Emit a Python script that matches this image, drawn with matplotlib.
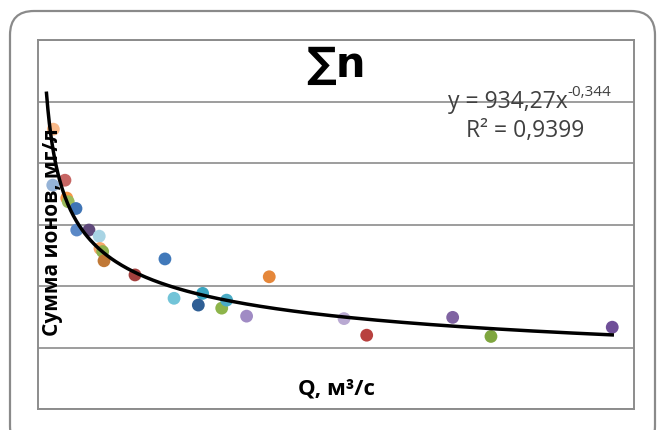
import numpy as np
import matplotlib
matplotlib.use('Agg')
import matplotlib.pyplot as plt
from matplotlib.patches import FancyBboxPatch

plt.rcParams['font.family'] = ['Open Sans', 'DejaVu Sans']

# Q, m3/s and sum of ions, mg/l
q = [10.3, 9.9, 18.1, 19.3, 20.3, 25.5, 26.0, 34.2, 41.1, 41.6, 43.4, 44.3, 65.1,
     85.2, 155.2, 91.3, 110.5, 107.6, 123.3, 126.6, 140.0, 205.4, 220.6, 278.3,
     304.0, 385.4]
ions = [455, 364, 372, 343, 337, 326, 291, 291, 281, 261, 256, 241, 218,
        244, 215, 180, 188, 169, 164, 177, 151, 147, 120, 149, 118, 133]
point_colors = ['#F8B98A', '#95B3D7', '#C66563', '#F79646', '#9BBB59', '#3F74B5',
                '#5A88C6', '#604A7B', '#A8D4E4', '#F6A76A', '#8DB04C', '#C07836',
                '#A3403E', '#4179BA', '#E5873A', '#72C4D8', '#3AA6C2', '#2F5F95',
                '#8DB44A', '#4BACC6', '#A08BC4', '#B9A9D2', '#B8413F', '#8064A2',
                '#7FA63F', '#6F4F98']

# power trend line y = a * x^b
fit_a = 934.27
fit_b = -0.344
fit_range = [5.7, 385.4]

W, H = 659, 430
fig = plt.figure(figsize=(W / 100, H / 100), dpi=100)

# outer chart frame with rounded corners
bg = fig.add_axes([0, 0, 1, 1])
bg.set_xlim(0, W)
bg.set_ylim(0, H)
bg.axis('off')
frame = FancyBboxPatch((10, -20), 645, 439, boxstyle='round,pad=0,rounding_size=24',
                       facecolor='white', edgecolor='#8a8a8a', linewidth=1.6)
bg.add_patch(frame)

ax = fig.add_axes([38 / W, (H - 409) / H, 596 / W, 369 / H])
ax.set_xlim(0, 400)
ax.set_ylim(0, 600)
ax.set_yticks(np.arange(0, 601, 100))
ax.set_xticks([])
ax.tick_params(left=False, labelleft=False)
ax.grid(axis='y', color='#8c8c8c', linewidth=1.2)
for s in ax.spines.values():
    s.set_color('#8c8c8c')
    s.set_linewidth(1.4)

ax.scatter(q, ions, s=85, c=point_colors, zorder=3, linewidths=0)

xf = np.linspace(fit_range[0], fit_range[1], 400)
ax.plot(xf, fit_a * xf ** fit_b, color='black', linewidth=2.5, zorder=4, clip_on=False)

ax.text(0.5, 0.932, '∑n', transform=ax.transAxes, ha='center', va='center',
        fontsize=30, fontweight='bold', family=['DejaVu Sans'])
ax.text(0.5, 0.054, 'Q, м³/с', transform=ax.transAxes, ha='center', va='center',
        fontsize=16, fontweight='bold')
ax.text(0.0235, 0.48, 'Сумма ионов, мг/л', transform=ax.transAxes, ha='center',
        va='center', rotation=90, fontsize=15, fontweight='bold', zorder=5)

# trend line equation, exponent drawn as a separate raised piece
ax.text(0.889, 0.816, 'y = 934,27x', transform=ax.transAxes, ha='right',
        va='baseline', fontsize=16.5, color='#404040')
ax.text(0.889, 0.848, '-0,344', transform=ax.transAxes, ha='left',
        va='baseline', fontsize=11, color='#404040')
ax.text(0.818, 0.753, 'R² = 0,9399', transform=ax.transAxes, ha='center', va='center',
        fontsize=16.5, color='#404040')

fig.savefig('out.png', dpi=100)
